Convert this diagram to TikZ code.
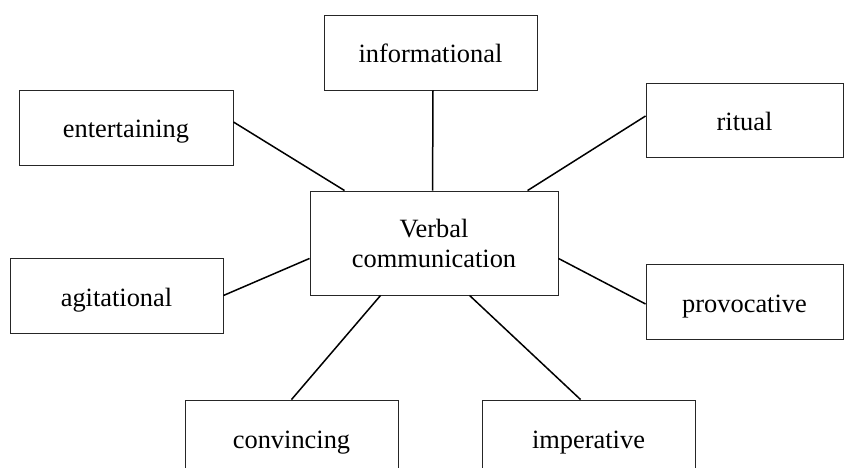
\documentclass[tikz,border=0pt]{standalone}
\usepackage{fontspec}
\setmainfont{Liberation Serif}
\usetikzlibrary{calc}
\begin{document}
\begin{tikzpicture}[x=1pt,y=-1pt,
  box/.style={draw=black!85, line width=0.9pt, minimum width=213pt, minimum height=75pt,
    inner sep=0pt, font=\fontsize{26.4}{30}\selectfont, align=center},
  word/.style={text height=24pt, text depth=3pt},
  link/.style={draw=black, line width=1.5pt}]
\useasboundingbox (0,0) rectangle (847,468);
\clip (0,0) rectangle (847,468);
\node[box, word] (info) at (430.5,52.5) {informational};
\node[box, word, minimum width=214pt] (ent) at (126,127.5) {entertaining};
\node[box, word, minimum width=197pt, minimum height=74pt] (rit) at (744.5,120) {ritual};
\node[box, minimum width=248pt, minimum height=104pt] (vc) at (434,243) {Verbal\\communication};
\node[box, word] (agi) at (116.5,295.5) {agitational};
\node[box, word, minimum width=197pt] (prov) at (744.5,301.5) {provocative};
\node[box, word] (conv) at (291.5,437.5) {convincing};
\node[box, word] (imp) at (588.5,437.5) {imperative};
\draw[link] ($(info.south)+(2.5,0)$) -- ($(vc.north west)+(123,0)$);
\draw[link] ($(ent.east)+(0,-5.5)$) -- ($(vc.north west)+(35,0)$);
\draw[link] ($(rit.west)+(0,-4)$) -- ($(vc.north west)+(218,0)$);
\draw[link] (agi.east) -- ($(vc.south west)+(0,-37)$);
\draw[link] ($(prov.west)+(0,2.5)$) -- ($(vc.south east)+(0,-37)$);
\draw[link] (conv.north) -- ($(vc.south west)+(71,0)$);
\draw[link] ($(imp.north west)+(99,0)$) -- ($(vc.south west)+(160,0)$);
\end{tikzpicture}
\end{document}
